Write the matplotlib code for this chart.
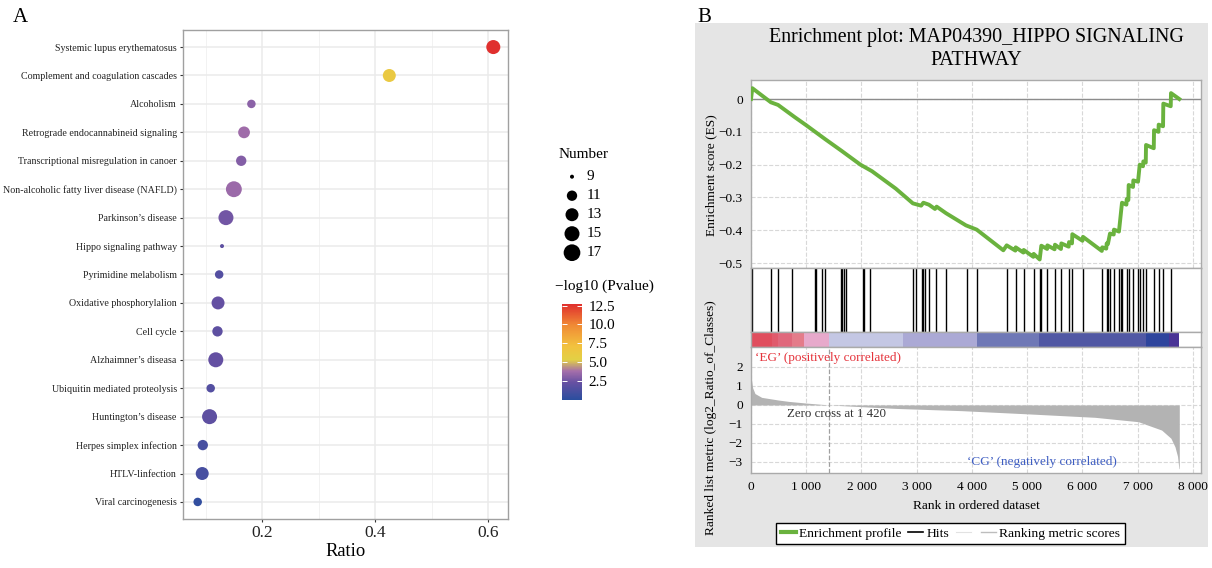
import numpy as np
import matplotlib
matplotlib.use('Agg')
import matplotlib.pyplot as plt
from matplotlib.colors import LinearSegmentedColormap, Normalize
from matplotlib.cm import ScalarMappable
from matplotlib.patches import Rectangle
from matplotlib.lines import Line2D

plt.rcParams['font.family'] = ['Liberation Serif', 'DejaVu Serif']

W, H = 1212, 568

# ---- panel A: KEGG enrichment dot plot
pathways = ['Systemic lupus erythematosus', 'Complement and coagulation cascades', 'Alcoholism',
            'Retrograde endocannabineid signaling', 'Transcriptional misregulation in canoer',
            'Non-alcoholic fatty liver disease (NAFLD)', 'Parkinson\u2019s disease', 'Hippo signaling pathway',
            'Pyrimidine melabolism', 'Oxidative phosphorylalion', 'Cell cycle', 'Alzhaimner\u2019s diseasa',
            'Ubiquitin mediated proteolysis', 'Huntington\u2019s disease', 'Herpes simplex infection',
            'HTLV-linfection', 'Viral carcinogenesis']
ratio = [0.609, 0.425, 0.181, 0.168, 0.163, 0.150, 0.136, 0.129, 0.124, 0.122, 0.121, 0.118,
         0.109, 0.107, 0.095, 0.094, 0.086]
number = [14, 13, 10, 12, 11, 16, 15, 9, 10, 13, 11, 15, 10, 15, 11, 13, 10]
neg_log_p = [12.7, 6.2, 3.2, 3.7, 3.0, 3.6, 2.6, 2.0, 1.6, 2.2, 2.0, 2.2, 1.6, 2.0, 1.1, 1.1, 0.3]
size_breaks = [9, 11, 13, 15, 17]
cbar_ticks = [2.5, 5.0, 7.5, 10.0, 12.5]

# ---- panel B: GSEA enrichment plot
es_rank = [0, 24, 360, 490, 790, 1000, 1340, 1640, 1980, 2190, 2620, 2930, 3080, 3120, 3220, 3330, 3360,
           3530, 3890, 4085, 4567, 4628, 4785, 4791, 4930, 4936, 5110, 5117, 5225, 5255, 5360, 5364,
           5495, 5502, 5610, 5617, 5750, 5756, 5810, 5816, 6000, 6009, 6350, 6358, 6430, 6438, 6460,
           6498, 6565, 6570, 6660, 6715, 6795, 6800, 6830, 6836, 6915, 6920, 7005, 7036, 7095, 7101,
           7145, 7150, 7290, 7295, 7375, 7379, 7458, 7463, 7597, 7602, 7752]
es_val = [0.0, 0.033, -0.010, -0.018, -0.055, -0.080, -0.122, -0.158, -0.200, -0.220, -0.273, -0.318,
          -0.325, -0.316, -0.322, -0.335, -0.328, -0.348, -0.385, -0.398, -0.461, -0.446, -0.462, -0.452,
          -0.468, -0.460, -0.481, -0.472, -0.489, -0.447, -0.457, -0.446, -0.458, -0.444, -0.457, -0.440,
          -0.450, -0.436, -0.440, -0.412, -0.432, -0.420, -0.463, -0.452, -0.456, -0.440, -0.442, -0.410,
          -0.413, -0.398, -0.404, -0.316, -0.322, -0.305, -0.308, -0.262, -0.268, -0.248, -0.252, -0.200,
          -0.205, -0.190, -0.194, -0.140, -0.150, -0.095, -0.100, -0.078, -0.083, -0.014, -0.022, 0.018, 0.0]
hits = [24, 367, 489, 748, 1158, 1182, 1279, 1339, 1629, 1653, 1677, 1719, 2027, 2051, 2154, 2938, 2981,
        3095, 3119, 3143, 3221, 3353, 3534, 3914, 4085, 4628, 4791, 4936, 5117, 5231, 5255, 5364, 5502,
        5617, 5756, 5816, 6009, 6358, 6438, 6467, 6498, 6570, 6666, 6691, 6715, 6800, 6836, 6920, 7010,
        7036, 7101, 7150, 7295, 7379, 7463, 7602]
metric_rank = [0, 10, 30, 72, 193, 495, 676, 1000, 1420, 2000, 2606, 3813, 5019, 6226, 7010, 7432,
               7600, 7674, 7720, 7745, 7752]
metric_val = [1.4, 1.3, 0.9, 0.6, 0.4, 0.26, 0.19, 0.1, 0.0, -0.09, -0.18, -0.30, -0.47, -0.65, -0.88,
              -1.32, -1.75, -2.2, -2.7, -3.35, -3.35]
bar_edges = [0, 374, 490, 748, 965, 1412, 2757, 4085, 5205, 7144, 7571, 7752]
zero_cross = 1420
rank_ticks = [0, 1000, 2000, 3000, 4000, 5000, 6000, 7000, 8000]
es_ticks = [0, -0.1, -0.2, -0.3, -0.4, -0.5]
metric_ticks = [2, 1, 0, -1, -2, -3]

bar_colors = ['#E04E5E', '#E05A6C', '#E0687C', '#E47C8A', '#E7A9CB', '#C4C7E4', '#ABA9D5',
              '#6F78B6', '#5158A4', '#2E459D', '#4A3496']
cmap = LinearSegmentedColormap.from_list('pv', [(0, '#2A4E9E'), (0.18, '#6650A2'), (0.3, '#A46EAA'),
                                               (0.42, '#E2D045'), (0.56, '#F2C23E'), (0.78, '#F08A35'),
                                               (1.0, '#E0302E')])
norm = Normalize(0, 12.7)
green = '#6AB23E'


def px(x0, y0, x1, y1):
    return [x0 / W, 1 - y1 / H, (x1 - x0) / W, (y1 - y0) / H]


def dot_size(n):
    d = 4 + 12.7 * np.sqrt((np.asarray(n, dtype=float) - 9) / 8)
    return (d * 72 / 100) ** 2


fig = plt.figure(figsize=(W / 100, H / 100), dpi=100)

bg = fig.add_axes([0, 0, 1, 1])
bg.set_zorder(-1)
bg.axis('off')
bg.set_xlim(0, W)
bg.set_ylim(H, 0)
bg.add_patch(Rectangle((695, 23), 513, 524, color='#E5E5E5', lw=0))

# ---------------- panel A
ax = fig.add_axes(px(183, 30, 508, 519))
ypos = np.arange(len(pathways))
ax.scatter(ratio, ypos, s=dot_size(number), c=neg_log_p, cmap=cmap, norm=norm, edgecolors='none', zorder=3)
ax.set_ylim(len(pathways) - 0.4, -0.6)
ax.set_xlim(0.06, 0.635)
ax.set_xticks([0.2, 0.4, 0.6])
ax.set_xticks([0.1, 0.3, 0.5], minor=True)
ax.set_yticks(ypos, pathways)
ax.set_axisbelow(True)
ax.grid(which='major', color='#EBEBEB', lw=1.1)
ax.grid(which='minor', axis='x', color='#F2F2F2', lw=0.7)
ax.tick_params(axis='y', labelsize=7.2, length=2.5, width=0.8, color='#333333', pad=2, labelcolor='#222222')
ax.tick_params(axis='x', labelsize=12.5, length=2.5, width=0.8, color='#333333', pad=2, labelcolor='#222222')
ax.tick_params(axis='x', which='minor', length=0)
for s in ax.spines.values():
    s.set_color('#A0A0A0')
    s.set_linewidth(1)
ax.set_xlabel('Ratio', fontsize=13.3, labelpad=1)

fig.text(13 / W, 1 - 17 / H, 'A', fontsize=15, va='center', ha='left')

# size legend
fig.text(559 / W, 1 - 154 / H, 'Number', fontsize=11, va='center', ha='left')
leg_y = 176.7 + 19 * np.arange(len(size_breaks))
bg.scatter([572] * len(size_breaks), leg_y, s=dot_size(size_breaks), c='black', edgecolors='none')
for yy, b in zip(leg_y, size_breaks):
    bg.text(586.7, yy, str(b), fontsize=11, va='center', ha='left')

# colour legend
fig.text(555 / W, 1 - 286 / H, '\u2212log10 (Pvalue)', fontsize=11, va='center', ha='left')
cax = fig.add_axes(px(562, 304, 582, 400))
cb = fig.colorbar(ScalarMappable(norm=norm, cmap=cmap), cax=cax)
cb.set_ticks(cbar_ticks)
cb.outline.set_visible(False)
cax.tick_params(direction='in', length=3.5, width=0.7, color='white', labelsize=11, pad=4.5, left=True)

# ---------------- panel B
xmax = 8145
ax_es = fig.add_axes(px(751, 80, 1201, 268))
ax_hit = fig.add_axes(px(751, 268, 1201, 332))
ax_bar = fig.add_axes(px(751, 332, 1201, 347))
ax_met = fig.add_axes(px(751, 347, 1201, 473))

for a in (ax_es, ax_hit, ax_bar, ax_met):
    a.set_xlim(0, xmax)
    for s in a.spines.values():
        s.set_color('#AAAAAA')
        s.set_linewidth(1)

ax_es.plot(es_rank, es_val, color=green, lw=2.8, zorder=3)
ax_es.axhline(0, color='#8C8C8C', lw=1, zorder=2)
ax_es.set_ylim(-0.515, 0.058)
ax_es.set_xticks(rank_ticks)
ax_es.set_yticks(es_ticks, ['0' if v == 0 else '\u2212%.1f' % abs(v) for v in es_ticks])
ax_es.tick_params(axis='x', length=0, labelbottom=False)
ax_es.tick_params(axis='y', length=0, labelsize=9.6, pad=6)
ax_es.grid(color='#D8D8D8', ls='--', lw=0.8)
ax_es.set_axisbelow(True)

ax_hit.vlines(hits, 0, 1, color='black', lw=1.0)
ax_hit.set_ylim(0, 1)
ax_hit.set_xticks([])
ax_hit.set_yticks([])

for i in range(len(bar_colors)):
    ax_bar.axvspan(bar_edges[i], bar_edges[i + 1], color=bar_colors[i], lw=0)
ax_bar.set_ylim(0, 1)
ax_bar.set_xticks([])
ax_bar.set_yticks([])

ax_met.fill_between(metric_rank, metric_val, 0, color='#B3B3B3', lw=0, zorder=2)
ax_met.axvline(zero_cross, color='#A0A0A0', ls='--', lw=0.9, zorder=3)
ax_met.set_ylim(-3.58, 3.05)
ax_met.set_xticks(rank_ticks, ['0' if r == 0 else '%d %03d' % (r // 1000, r % 1000) for r in rank_ticks])
ax_met.set_yticks(metric_ticks, [('\u2212%d' % -v) if v < 0 else str(v) for v in metric_ticks])
ax_met.tick_params(length=0, labelsize=9.6, pad=6)
ax_met.grid(color='#D8D8D8', ls='--', lw=0.8)
ax_met.set_axisbelow(True)
ax_met.set_xlabel('Rank in ordered dataset', fontsize=9.6, labelpad=5)
ax_met.text(72, 2.47, '\u2018EG\u2019 (positively correlated)', color='#E5343C', fontsize=9.5, va='center')
ax_met.text(650, -0.47, 'Zero cross at 1 420', color='#333333', fontsize=9.3, va='center')
ax_met.text(3910, -3.0, '\u2018CG\u2019 (negatively correlated)', color='#3F5EC2', fontsize=9.5, va='center')

fig.text(711 / W, 1 - 175 / H, 'Enrichment score (ES)', rotation=90, fontsize=9.6, ha='center', va='center')
fig.text(711 / W, 1 - 418 / H, 'Ranked list metric (log2_Ratio_of_Classes)', rotation=90, fontsize=9.6,
         ha='center', va='center')
fig.text(976 / W, 1 - 49 / H, 'Enrichment plot: MAP04390_HIPPO SIGNALING\nPATHWAY', fontsize=14.4,
         ha='center', va='center', linespacing=1.3)
fig.text(697 / W, 1 - 17 / H, 'B', fontsize=15, va='center', ha='left')

handles = [Line2D([], [], color=green, lw=3), Line2D([], [], color='black', lw=1.2),
           Line2D([], [], color='#E2E2E2', lw=0.8), Line2D([], [], color='#BDBDBD', lw=1)]
labels = ['Enrichment profile', 'Hits', '', 'Ranking metric scores']
leg = fig.legend(handles, labels, loc='center', bbox_to_anchor=(950.5 / W, 1 - 533.5 / H), ncol=4,
                 fontsize=9.7, frameon=True, fancybox=False, edgecolor='black', framealpha=1,
                 handlelength=1.1, handletextpad=0.25, columnspacing=0.5, borderpad=0.35)
leg.get_frame().set_linewidth(1)

fig.savefig('out.png', dpi=100)
